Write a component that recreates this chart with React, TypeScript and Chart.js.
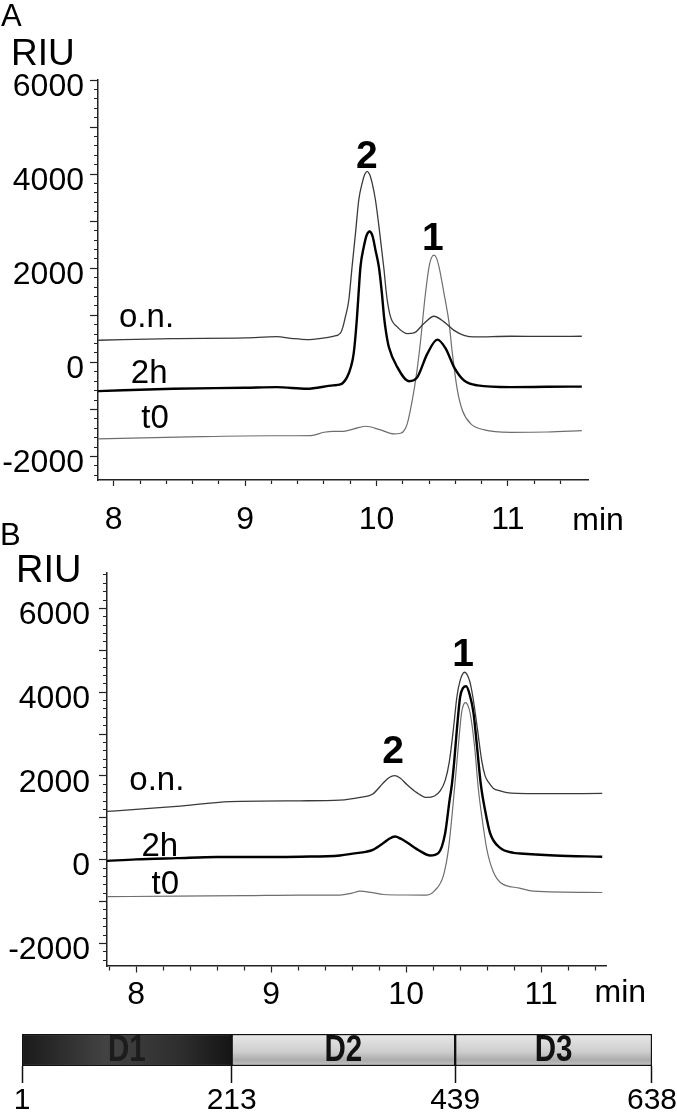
import React, { useEffect, useRef } from 'react';
import { Chart, registerables } from 'chart.js';

Chart.register(...registerables);

type Pt = [number, number];

// ---------------- data (time in min, signal in RIU) ----------------
// Panel A
const A_ON: Pt[] = [
  [7.88, 470], [8.45, 505], [9.0, 520], [9.24, 545], [9.35, 510], [9.47, 484], [9.58, 510],
  [9.67, 554], [9.725, 620], [9.745, 760], [9.763, 965], [9.789, 1320], [9.814, 2030],
  [9.84, 2740], [9.865, 3450], [9.891, 3810], [9.91, 3990], [9.929, 4060], [9.948, 3990],
  [9.967, 3810], [9.992, 3450], [10.025, 2740], [10.056, 2000], [10.078, 1400], [10.107, 965],
  [10.158, 753], [10.234, 612], [10.285, 625], [10.361, 825], [10.437, 980], [10.514, 860],
  [10.59, 680], [10.666, 575], [10.743, 540], [11.02, 555], [11.3, 550], [11.563, 555],
];
const A_2H: Pt[] = [
  [7.88, -612], [8.45, -561], [9.0, -540], [9.24, -527], [9.47, -561], [9.67, -490],
  [9.725, -470], [9.776, -313], [9.805, -100], [9.827, 200], [9.85, 900], [9.862, 1400],
  [9.878, 2030], [9.903, 2450], [9.925, 2700], [9.948, 2780], [9.97, 2680], [9.992, 2390],
  [10.018, 2030], [10.04, 1500], [10.058, 950], [10.075, 600], [10.094, 326], [10.158, -100],
  [10.247, -400], [10.311, -313], [10.387, 185], [10.463, 484], [10.527, 292], [10.59, -100],
  [10.666, -384], [10.769, -490], [11.02, -527], [11.3, -520], [11.563, -515],
];
const A_T0: Pt[] = [
  [7.88, -1627], [8.66, -1578], [9.2, -1560], [9.5, -1556], [9.6, -1486], [9.67, -1465],
  [9.75, -1465], [9.827, -1413], [9.916, -1358], [10.031, -1435], [10.132, -1520],
  [10.183, -1507], [10.21, -1450], [10.234, -1307], [10.272, -810], [10.305, -240],
  [10.336, 470], [10.37, 1400], [10.4, 2030], [10.418, 2220], [10.437, 2280], [10.456, 2220],
  [10.476, 2030], [10.518, 1400], [10.552, 850], [10.577, 200], [10.616, -597], [10.654, -1023],
  [10.718, -1307], [10.82, -1435], [11.02, -1486], [11.3, -1480], [11.563, -1450],
];
// Panel B
const B_ON: Pt[] = [
  [7.785, 1150], [8.0, 1200], [8.3, 1270], [8.696, 1385], [9.215, 1405], [9.51, 1420],
  [9.66, 1485], [9.75, 1560], [9.832, 1835], [9.875, 1960], [9.913, 2005], [9.955, 1950],
  [10.005, 1795], [10.079, 1600], [10.153, 1485], [10.21, 1520], [10.252, 1640], [10.29, 1900],
  [10.32, 2340], [10.35, 3115], [10.376, 3890], [10.4, 4280], [10.432, 4475], [10.469, 4280],
  [10.494, 3890], [10.528, 3115], [10.561, 2340], [10.585, 2000], [10.61, 1850], [10.647, 1700],
  [10.696, 1640], [10.746, 1600], [10.82, 1580], [11.0, 1575], [11.452, 1580],
];
const B_2H: Pt[] = [
  [7.785, -30], [8.0, 5], [8.3, 35], [8.6, 63], [9.0, 63], [9.215, 70], [9.51, 100],
  [9.62, 150], [9.7, 185], [9.758, 240], [9.832, 396], [9.875, 500], [9.919, 552], [9.96, 500],
  [10.005, 413], [10.104, 203], [10.178, 100], [10.24, 163], [10.289, 630], [10.321, 1405],
  [10.339, 1800], [10.356, 2340], [10.376, 3115], [10.4, 3890], [10.422, 4100], [10.444, 4140],
  [10.47, 3950], [10.499, 3500], [10.524, 2730], [10.553, 1800], [10.585, 1172], [10.622, 630],
  [10.696, 280], [10.795, 163], [10.844, 147], [11.1, 100], [11.452, 70],
];
const B_T0: Pt[] = [
  [7.785, -885], [8.3, -870], [8.8, -860], [9.215, -847], [9.51, -847], [9.6, -800],
  [9.659, -753], [9.75, -790], [9.832, -832], [10.0, -845], [10.153, -847], [10.215, -730],
  [10.276, -380], [10.313, 240], [10.35, 1405], [10.387, 2730], [10.41, 3500], [10.425, 3700],
  [10.439, 3750], [10.455, 3700], [10.474, 3500], [10.506, 2730], [10.536, 1650], [10.561, 1020],
  [10.598, 240], [10.647, -303], [10.7, -550], [10.84, -680], [10.943, -753], [11.452, -785],
];

const X_MAJOR = [8, 9, 10, 11];
const Y_MAJOR = [-2000, 0, 2000, 4000, 6000];
const X_MINOR_STEP = 0.2;
const Y_MINOR_STEP = 200;
const Y_MID_STEP = 1000;

const DOMAIN_NAMES = ['D1', 'D2', 'D3'];
const DOMAIN_BOUNDS = [1, 213, 439, 638];

// ---------------- styling ----------------
const FONT = "'Liberation Sans', Arial, Helvetica, sans-serif";
const AXIS = '#222';
const TICK_FONT_SIZE = 32;
const SERIES_STYLE = [
  { color: '#3a3a3a', width: 1.3 }, // o.n.
  { color: '#000000', width: 2.4 }, // 2h
  { color: '#6e6e6e', width: 1.2 }, // t0
];

type Note = { text: string; x: number; y: number; size: number; bold?: boolean; align: CanvasTextAlign };

const A_NOTES: Note[] = [
  { text: 'o.n.', x: 8.04, y: 751, size: 33, align: 'left' },
  { text: '2h', x: 8.13, y: -439, size: 33, align: 'left' },
  { text: 't0', x: 8.21, y: -1395, size: 33, align: 'left' },
  { text: '2', x: 9.926, y: 4130, size: 39, bold: true, align: 'center' },
  { text: '1', x: 10.429, y: 2388, size: 39, bold: true, align: 'center' },
  { text: 'min', x: 11.49, y: -3562, size: 32, align: 'left' },
];
const B_NOTES: Note[] = [
  { text: 'o.n.', x: 7.95, y: 1673, size: 33, align: 'left' },
  { text: '2h', x: 8.04, y: 90, size: 33, align: 'left' },
  { text: 't0', x: 8.115, y: -818, size: 33, align: 'left' },
  { text: '2', x: 9.904, y: 2301, size: 39, bold: true, align: 'center' },
  { text: '1', x: 10.422, y: 4629, size: 39, bold: true, align: 'center' },
  { text: 'min', x: 11.395, y: -3401, size: 32, align: 'left' },
];

type PanelCfg = {
  series: Pt[][];
  xMin: number; xMax: number; yMin: number; yMax: number;
  xTickFrom: number; xTickTo: number;
  top: number; height: number;
  padTop: number; padRight: number;
  yWidth: number; xHeight: number;
  xLabelPad: number; yLabelPad: number;
  xTickLen: number; xMinorLen: number;
  notes: Note[];
};

const PANEL_A: PanelCfg = {
  series: [A_ON, A_2H, A_T0],
  xMin: 7.88, xMax: 11.61, yMin: -2500, yMax: 6000,
  xTickFrom: 8, xTickTo: 11.4,
  top: 0, height: 545, padTop: 80, padRight: 89, yWidth: 98, xHeight: 65,
  xLabelPad: 15, yLabelPad: 6, xTickLen: 6, xMinorLen: 3.5,
  notes: A_NOTES,
};
const PANEL_B: PanelCfg = {
  series: [B_ON, B_2H, B_T0],
  xMin: 7.785, xMax: 11.48, yMin: -2540, yMax: 6840,
  xTickFrom: 7.8, xTickTo: 11.4,
  top: 545, height: 480, padTop: 18, padRight: 71, yWidth: 107, xHeight: 59,
  xLabelPad: 3, yLabelPad: 9, xTickLen: 6.5, xMinorLen: 4,
  notes: B_NOTES,
};

function stepValues(min: number, max: number, step: number): number[] {
  const out: number[] = [];
  const k0 = Math.ceil(min / step - 1e-9);
  const k1 = Math.floor(max / step + 1e-9);
  for (let k = k0; k <= k1; k++) out.push(Math.round(k * step * 1000) / 1000);
  return out;
}

function notesPlugin(notes: Note[]) {
  return {
    id: 'notes',
    afterDraw(chart: any) {
      const ctx = chart.ctx as CanvasRenderingContext2D;
      const xs = chart.scales.x;
      const ys = chart.scales.y;
      ctx.save();
      for (const n of notes) {
        ctx.font = `${n.bold ? 'bold ' : ''}${n.size}px ${FONT}`;
        ctx.fillStyle = '#000';
        ctx.textAlign = n.align;
        ctx.textBaseline = 'alphabetic';
        ctx.fillText(n.text, xs.getPixelForValue(n.x), ys.getPixelForValue(n.y));
      }
      ctx.restore();
    },
  };
}

function buildPanel(canvas: HTMLCanvasElement, cfg: PanelCfg) {
  const xTicks = stepValues(cfg.xTickFrom, cfg.xTickTo, X_MINOR_STEP);
  const yTicks = stepValues(cfg.yMin, cfg.yMax, Y_MINOR_STEP);
  const isXMajor = (v: number) => X_MAJOR.some((m) => Math.abs(m - v) < 1e-6);
  const isYLong = (v: number) => Math.abs(v % Y_MID_STEP) < 1e-6;
  const isYLabel = (v: number) => Y_MAJOR.some((m) => Math.abs(m - v) < 1e-6);
  return new Chart(canvas, {
    type: 'line',
    data: {
      datasets: cfg.series.map((s, i) => ({
        data: s.map(([x, y]) => ({ x, y })),
        borderColor: SERIES_STYLE[i].color,
        borderWidth: SERIES_STYLE[i].width,
        pointRadius: 0,
        fill: false,
        cubicInterpolationMode: 'monotone' as const,
      })),
    },
    options: {
      responsive: false,
      animation: false,
      devicePixelRatio: 1,
      events: [],
      layout: { padding: { top: cfg.padTop, right: cfg.padRight, left: 0, bottom: 0 } },
      plugins: { legend: { display: false }, tooltip: { enabled: false } },
      scales: {
        x: {
          type: 'linear',
          min: cfg.xMin,
          max: cfg.xMax,
          afterBuildTicks: (s: any) => { s.ticks = xTicks.map((v) => ({ value: v })); },
          afterFit: (s: any) => { s.height = cfg.xHeight; },
          ticks: {
            autoSkip: false, maxRotation: 0, minRotation: 0,
            padding: cfg.xLabelPad, color: '#000',
            font: { family: FONT, size: TICK_FONT_SIZE },
            callback: (v: any) => (isXMajor(Number(v)) ? String(Math.round(Number(v))) : ''),
          },
          grid: {
            drawOnChartArea: false,
            tickLength: cfg.xTickLen,
            tickColor: AXIS,
            tickWidth: 1.2,
            tickBorderDash: (c: any) => (c.tick && isXMajor(c.tick.value) ? [] : [cfg.xMinorLen, 60]),
          },
          border: { display: true, color: AXIS, width: 1.5 },
        },
        y: {
          type: 'linear',
          position: 'left',
          min: cfg.yMin,
          max: cfg.yMax,
          afterBuildTicks: (s: any) => { s.ticks = yTicks.map((v) => ({ value: v })); },
          afterFit: (s: any) => { s.width = cfg.yWidth; },
          ticks: {
            autoSkip: false,
            padding: cfg.yLabelPad, color: '#000', labelOffset: 7,
            font: { family: FONT, size: TICK_FONT_SIZE },
            callback: (v: any) => (isYLabel(Number(v)) ? String(Math.round(Number(v))) : ''),
          },
          grid: {
            drawOnChartArea: false,
            tickLength: 8,
            tickColor: AXIS,
            tickWidth: 1.2,
            tickBorderDash: (c: any) => (c.tick && isYLong(c.tick.value) ? [] : [0, 4, 4, 60]),
          },
          border: { display: true, color: AXIS, width: 1.5 },
        },
      },
    } as any,
    plugins: [notesPlugin(cfg.notes)],
  });
}

function Panel({ cfg }: { cfg: PanelCfg }) {
  const ref = useRef<HTMLCanvasElement | null>(null);
  useEffect(() => {
    if (!ref.current) return;
    const chart = buildPanel(ref.current, cfg);
    return () => chart.destroy();
  }, [cfg]);
  return (
    <canvas
      ref={ref}
      width={677}
      height={cfg.height}
      style={{ position: 'absolute', left: 0, top: cfg.top, width: 677, height: cfg.height }}
    />
  );
}

function domainFill(c: any, i: number) {
  const chart = c.chart;
  const area = chart.chartArea;
  if (!area) return i === 0 ? '#2a2a2a' : '#d0d0d0';
  const ctx = chart.ctx as CanvasRenderingContext2D;
  if (i === 0) {
    const xs = chart.scales.x;
    const x0 = xs.getPixelForValue(DOMAIN_BOUNDS[0]);
    const x1 = xs.getPixelForValue(DOMAIN_BOUNDS[1]);
    const g = ctx.createLinearGradient(x0, 0, x1, 0);
    g.addColorStop(0, '#1a1a1a');
    g.addColorStop(0.4, '#434343');
    g.addColorStop(0.75, '#2e2e2e');
    g.addColorStop(1, '#151515');
    return g;
  }
  const g = ctx.createLinearGradient(0, area.top, 0, area.bottom);
  g.addColorStop(0, '#e8e8e8');
  g.addColorStop(0.25, '#dcdcdc');
  g.addColorStop(0.55, '#cecece');
  g.addColorStop(0.82, '#ababab');
  g.addColorStop(1, '#c4c4c4');
  return g;
}

const domainLabelPlugin = {
  id: 'domainLabels',
  afterDatasetsDraw(chart: any) {
    const ctx = chart.ctx as CanvasRenderingContext2D;
    DOMAIN_NAMES.forEach((name, i) => {
      const el = chart.getDatasetMeta(i).data[0];
      if (!el) return;
      ctx.save();
      ctx.translate((el.x + el.base) / 2, el.y + 1);
      ctx.scale(0.82, 1);
      ctx.font = `bold 36px ${FONT}`;
      ctx.textAlign = 'center';
      ctx.textBaseline = 'middle';
      ctx.fillStyle = i === 0 ? '#1c1c1c' : '#111';
      ctx.fillText(name, 0, 0);
      ctx.restore();
    });
  },
};

function DomainBar() {
  const ref = useRef<HTMLCanvasElement | null>(null);
  useEffect(() => {
    if (!ref.current) return;
    const chart = new Chart(ref.current, {
      type: 'bar',
      data: {
        labels: ['protein'],
        datasets: DOMAIN_NAMES.map((name, i) => ({
          label: name,
          data: [[DOMAIN_BOUNDS[i], DOMAIN_BOUNDS[i + 1]]] as any,
          backgroundColor: (c: any) => domainFill(c, i),
          borderColor: '#111',
          borderWidth: 1.5,
          borderSkipped: false,
          grouped: false,
          barPercentage: 1,
          categoryPercentage: 1,
        })),
      },
      options: {
        indexAxis: 'y',
        responsive: false,
        animation: false,
        devicePixelRatio: 1,
        events: [],
        layout: { padding: { top: 24, left: 22, right: 22, bottom: 0 } },
        plugins: { legend: { display: false }, tooltip: { enabled: false } },
        scales: {
          x: {
            type: 'linear',
            min: DOMAIN_BOUNDS[0],
            max: DOMAIN_BOUNDS[DOMAIN_BOUNDS.length - 1],
            afterBuildTicks: (s: any) => { s.ticks = DOMAIN_BOUNDS.map((v) => ({ value: v })); },
            afterFit: (s: any) => { s.height = 50; },
            ticks: {
              autoSkip: false, maxRotation: 0, minRotation: 0, padding: 0, color: '#000',
              font: { family: FONT, size: 30 },
              callback: (v: any) => String(v),
            },
            grid: { drawOnChartArea: false, tickLength: 17, tickColor: '#111', tickWidth: 1.5 },
            border: { display: false },
          },
          y: { display: false },
        },
      } as any,
      plugins: [domainLabelPlugin],
    });
    return () => chart.destroy();
  }, []);
  return (
    <canvas
      ref={ref}
      width={677}
      height={106}
      style={{ position: 'absolute', left: 0, top: 1010, width: 677, height: 106 }}
    />
  );
}

function TextLabel({ text, left, top, size }: { text: string; left: number; top: number; size: number }) {
  return (
    <div
      style={{
        position: 'absolute', left, top, fontSize: size, lineHeight: 1,
        fontFamily: FONT, color: '#000', whiteSpace: 'nowrap',
      }}
    >
      {text}
    </div>
  );
}

export default function App() {
  return (
    <div
      style={{
        position: 'absolute', left: 0, top: 0, width: 677, height: 1116,
        background: '#fff', overflow: 'hidden',
      }}
    >
      <Panel cfg={PANEL_A} />
      <Panel cfg={PANEL_B} />
      <DomainBar />
      <TextLabel text="A" left={1} top={0} size={31} />
      <TextLabel text="RIU" left={11} top={33.5} size={37} />
      <TextLabel text="B" left={0} top={519} size={31} />
      <TextLabel text="RIU" left={16} top={550} size={38} />
    </div>
  );
}
